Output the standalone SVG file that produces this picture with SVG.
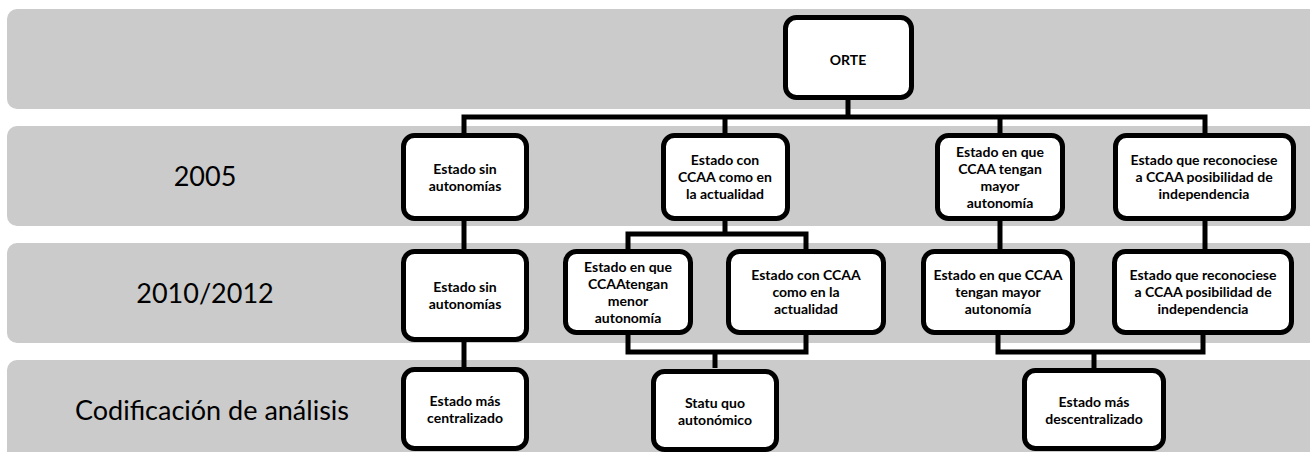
<svg xmlns="http://www.w3.org/2000/svg" width="1310" height="452" viewBox="0 0 1310 452">
<style>
.band{fill:#cbcbcb}
.lbl{font-family:Lato,"Liberation Sans",sans-serif;font-size:27px;fill:#000;text-anchor:middle}
.box{fill:#fff;stroke:#000;stroke-width:5}
.t{font-family:Lato,"Liberation Sans",sans-serif;font-size:14px;font-weight:bold;fill:#000;text-anchor:middle}
.c{fill:none;stroke:#000;stroke-width:5}
</style>
<g id="bands">
<rect class="band" x="7" y="9" width="1320" height="100" rx="10"/>
<rect class="band" x="7" y="126" width="1320" height="100" rx="10"/>
<rect class="band" x="7" y="243" width="1320" height="100" rx="10"/>
<rect class="band" x="7" y="360" width="1320" height="110" rx="10"/>
<text class="lbl" x="205" y="186">2005</text>
<text class="lbl" x="205" y="303">2010/2012</text>
<text class="lbl" x="212" y="420">Codificación de análisis</text>
</g>
<g id="connectors">
<path class="c" d="M848,100 V117"/>
<path class="c" d="M464,133 V117 H1205 V133 M725,117 V133 M1000,117 V133"/>
<path class="c" d="M464,221 V249"/>
<path class="c" d="M725,221 V234 M628,249 V234 H806 V249"/>
<path class="c" d="M1000,221 V249"/>
<path class="c" d="M1205,221 V249"/>
<path class="c" d="M464,342 V368"/>
<path class="c" d="M628,335 V352 H806 V335 M715,352 V368"/>
<path class="c" d="M998,335 V352 H1203 V335 M1094,352 V368"/>
</g>
<g id="orte">
<rect class="box" x="785.5" y="17.5" width="126" height="80" rx="11"/>
<text class="t" x="848" y="65">ORTE</text>
</g>
<g id="n2005-1">
<rect class="box" x="403.5" y="135.5" width="123" height="83" rx="11"/>
<text class="t" x="465" y="173.5">Estado sin</text>
<text class="t" x="465" y="190.5">autonomías</text>
</g>
<g id="n2005-2">
<rect class="box" x="663.5" y="135.5" width="124" height="83" rx="11"/>
<text class="t" x="725" y="165">Estado con</text>
<text class="t" x="725" y="182">CCAA como en</text>
<text class="t" x="725" y="199">la actualidad</text>
</g>
<g id="n2005-3">
<rect class="box" x="937.5" y="135.5" width="125" height="83" rx="11"/>
<text class="t" x="1000" y="156.5">Estado en que</text>
<text class="t" x="1000" y="173.5">CCAA tengan</text>
<text class="t" x="1000" y="190.5">mayor</text>
<text class="t" x="1000" y="207.5">autonomía</text>
</g>
<g id="n2005-4">
<rect class="box" x="1115.5" y="135.5" width="178" height="83" rx="11"/>
<text class="t" x="1204" y="165">Estado que reconociese</text>
<text class="t" x="1204" y="182">a CCAA posibilidad de</text>
<text class="t" x="1204" y="199">independencia</text>
</g>
<g id="n2010-1">
<rect class="box" x="403.5" y="251.5" width="123" height="88" rx="11"/>
<text class="t" x="465" y="292">Estado sin</text>
<text class="t" x="465" y="309">autonomías</text>
</g>
<g id="n2010-2">
<rect class="box" x="565.5" y="251.5" width="125" height="81" rx="11"/>
<text class="t" x="628" y="271.5">Estado en que</text>
<text class="t" x="628" y="288.5">CCAAtengan</text>
<text class="t" x="628" y="305.5">menor</text>
<text class="t" x="628" y="322.5">autonomía</text>
</g>
<g id="n2010-3">
<rect class="box" x="728.5" y="251.5" width="155" height="81" rx="11"/>
<text class="t" x="806" y="280">Estado con CCAA</text>
<text class="t" x="806" y="297">como en la</text>
<text class="t" x="806" y="314">actualidad</text>
</g>
<g id="n2010-4">
<rect class="box" x="923.5" y="251.5" width="149" height="81" rx="11"/>
<text class="t" x="998" y="280">Estado en que CCAA</text>
<text class="t" x="998" y="297">tengan mayor</text>
<text class="t" x="998" y="314">autonomía</text>
</g>
<g id="n2010-5">
<rect class="box" x="1114.5" y="251.5" width="177" height="81" rx="11"/>
<text class="t" x="1203" y="280">Estado que reconociese</text>
<text class="t" x="1203" y="297">a CCAA posibilidad de</text>
<text class="t" x="1203" y="314">independencia</text>
</g>
<g id="cod-1">
<rect class="box" x="403.5" y="369.5" width="123" height="79" rx="11"/>
<text class="t" x="465" y="406">Estado más</text>
<text class="t" x="465" y="423">centralizado</text>
</g>
<g id="cod-2">
<rect class="box" x="653.5" y="371.5" width="123" height="78" rx="11"/>
<text class="t" x="715" y="408">Statu quo</text>
<text class="t" x="715" y="425">autonómico</text>
</g>
<g id="cod-3">
<rect class="box" x="1024.5" y="370.5" width="139" height="78" rx="11"/>
<text class="t" x="1094" y="407">Estado más</text>
<text class="t" x="1094" y="424">descentralizado</text>
</g>
</svg>
